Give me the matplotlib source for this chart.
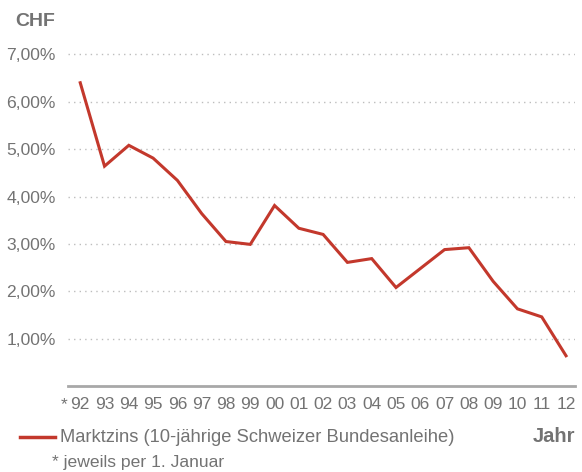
import matplotlib.pyplot as plt
from matplotlib.lines import Line2D

plt.rcParams['font.family'] = ['Liberation Sans', 'DejaVu Sans']

# data
years = ['92', '93', '94', '95', '96', '97', '98', '99', '00', '01', '02',
         '03', '04', '05', '06', '07', '08', '09', '10', '11', '12']
zins = [6.40, 4.64, 5.08, 4.81, 4.34, 3.64, 3.05, 2.99, 3.81, 3.33, 3.20,
        2.61, 2.69, 2.08, 2.48, 2.88, 2.92, 2.21, 1.63, 1.46, 0.64]
yticks = [1, 2, 3, 4, 5, 6, 7]
ytick_labels = ['1,00%', '2,00%', '3,00%', '4,00%', '5,00%', '6,00%', '7,00%']

grey = '#737373'
red = '#c3382c'

fig = plt.figure(figsize=(5.82, 4.72), dpi=100)
ax = fig.add_axes([0.117, 0.182, 0.871, 0.723])

x = list(range(len(years)))
ax.plot(x, zins, color=red, linewidth=2.2, solid_joinstyle='miter')

ax.set_xlim(-0.5, 20.37)
ax.set_ylim(0, 7.2)
ax.set_yticks(yticks)
ax.set_yticklabels(ytick_labels)
ax.set_xticks(x)
ax.set_xticklabels(years)
ax.grid(axis='y', linestyle=(0, (1, 3)), color='#bdbdbd', linewidth=1)
ax.set_axisbelow(True)

for s in ['top', 'right', 'left']:
    ax.spines[s].set_visible(False)
ax.spines['bottom'].set_color('#a8a8a8')
ax.spines['bottom'].set_linewidth(2)
ax.tick_params(axis='both', length=0, colors=grey)
ax.tick_params(axis='x', labelsize=12.5, pad=8)
ax.tick_params(axis='y', labelsize=12.6, pad=9)

fig.text(61 / 582, 1 - 409 / 472, '*', ha='left', va='baseline', fontsize=12.5, color=grey)
fig.text(15 / 582, 1 - 22 / 472, 'CHF', ha='left', va='center', fontsize=14,
         fontweight='bold', color=grey)

# legend row
fig.add_artist(Line2D([20 / 582, 55 / 582], [1 - 437 / 472] * 2, color=red, linewidth=2.5))
fig.text(60 / 582, 1 - 437 / 472, 'Marktzins (10-jährige Schweizer Bundesanleihe)',
         ha='left', va='center', fontsize=13.2, color=grey)
fig.text(575 / 582, 1 - 437 / 472, 'Jahr', ha='right', va='center', fontsize=14.5,
         fontweight='bold', color=grey)
fig.text(52 / 582, 1 - 463 / 472, '* jeweils per 1. Januar', ha='left', va='center',
         fontsize=12.6, color=grey)

fig.savefig('out.png', dpi=100, facecolor='white')
